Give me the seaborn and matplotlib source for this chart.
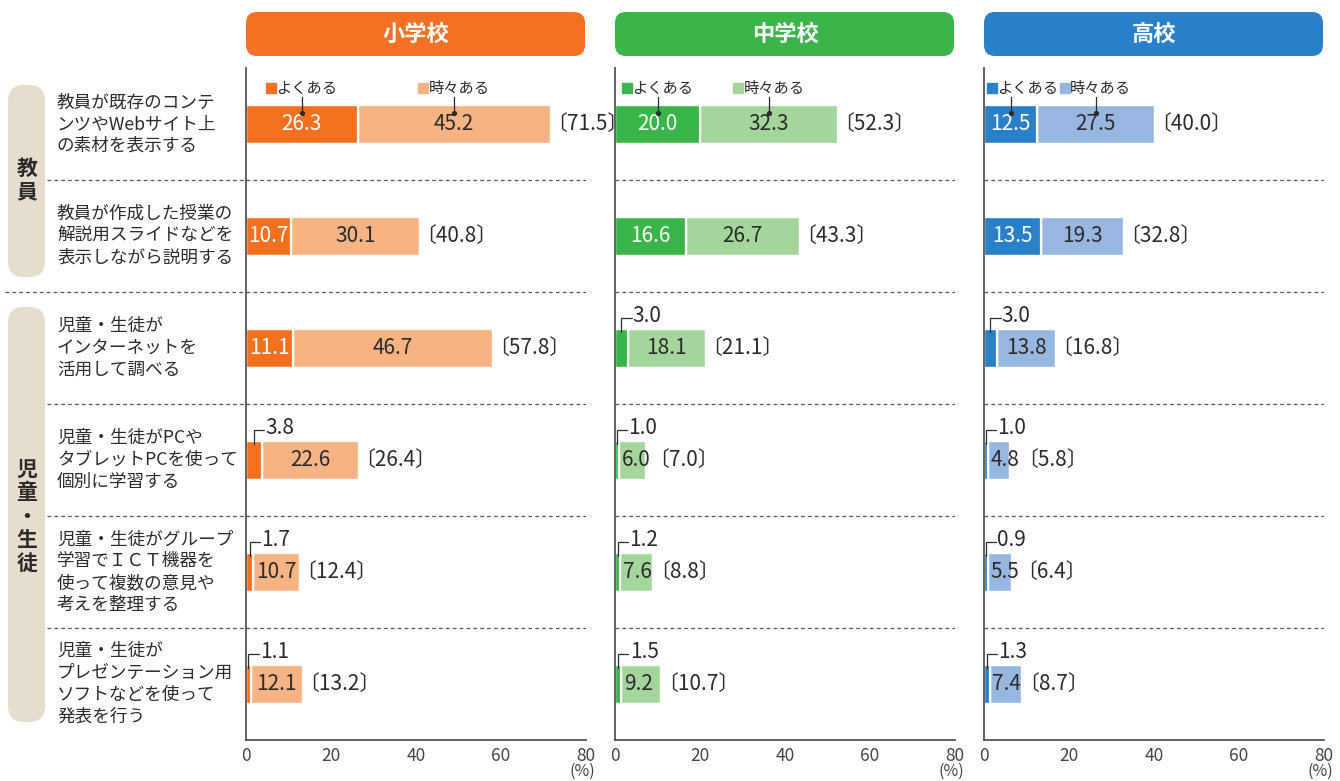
import numpy as np
import pandas as pd
import matplotlib
matplotlib.use("Agg")
import matplotlib.pyplot as plt
import seaborn as sns
from matplotlib.patches import FancyBboxPatch

# ------- DATA ---------
items = [
    "教員が既存のコンテ\nンツやWebサイト上\nの素材を表示する",
    "教員が作成した授業の\n解説用スライドなどを\n表示しながら説明する",
    "児童・生徒が\nインターネットを\n活用して調べる",
    "児童・生徒がPCや\nタブレットPCを使って\n個別に学習する",
    "児童・生徒がグループ\n学習でＩＣＴ機器を\n使って複数の意見や\n考えを整理する",
    "児童・生徒が\nプレゼンテーション用\nソフトなどを使って\n発表を行う",
]
groups = ["教員", "児童・生徒"]
group_rows = [[0, 1], [2, 3, 4, 5]]
schools = ["小学校", "中学校", "高校"]
series_names = ["よくある", "時々ある"]

often_es = [26.3, 10.7, 11.1, 3.8, 1.7, 1.1]
sometimes_es = [45.2, 30.1, 46.7, 22.6, 10.7, 12.1]
total_es = [71.5, 40.8, 57.8, 26.4, 12.4, 13.2]

often_js = [20.0, 16.6, 3.0, 1.0, 1.2, 1.5]
sometimes_js = [32.3, 26.7, 18.1, 6.0, 7.6, 9.2]
total_js = [52.3, 43.3, 21.1, 7.0, 8.8, 10.7]

often_hs = [12.5, 13.5, 3.0, 1.0, 0.9, 1.3]
sometimes_hs = [27.5, 19.3, 13.8, 4.8, 5.5, 7.4]
total_hs = [40.0, 32.8, 16.8, 5.8, 6.4, 8.7]

x_ticks = [0, 20, 40, 60, 80]

# ------- STYLE ---------
sns.set_style("white")
plt.rcParams["font.family"] = ["Noto Sans CJK JP", "DejaVu Sans"]

dark_colors = ["#F37021", "#3AB54A", "#2A80C8"]
light_colors = ["#F8B384", "#A4D69C", "#98B7E0"]
header_colors = ["#F37124", "#3BB54A", "#2A80C8"]
text_col = "#2b2b2b"
axis_col = "#555555"
val_fs = 15

W, H = 1340, 781
fig = plt.figure(figsize=(W / 100, H / 100), dpi=100)


def fx(px):
    return px / W


def round_box(x0, y0, x1, y1, color, r):
    # pixel box (y from top) -> figure fraction, keep corners circular
    box = FancyBboxPatch((fx(x0), 1 - y1 / H), fx(x1 - x0), (y1 - y0) / H,
                         boxstyle=f"round,pad=0,rounding_size={r / W}",
                         mutation_aspect=W / H, transform=fig.transFigure,
                         facecolor=color, edgecolor="none", zorder=-1)
    fig.patches.append(box)


panel_left = [246, 615, 984]
panel_w = 340
ax_top, ax_bot = 68, 740
bar_w = 0.34
px_per_unit = panel_w / 80

panel_data = [
    (often_es, sometimes_es, total_es),
    (often_js, sometimes_js, total_js),
    (often_hs, sometimes_hs, total_hs),
]

axes = []
for p, (often, sometimes, total) in enumerate(panel_data):
    ax = fig.add_axes([fx(panel_left[p]), 1 - ax_bot / H, fx(panel_w), (ax_bot - ax_top) / H])
    ax.patch.set_alpha(0)
    axes.append(ax)
    df = pd.DataFrame({"item": items, "often": often, "sometimes": sometimes, "total": total})

    sns.barplot(data=df, x="total", y="item", color=light_colors[p], width=bar_w,
                saturation=1, errorbar=None, ax=ax, zorder=2)
    sns.barplot(data=df, x="often", y="item", color=dark_colors[p], width=bar_w,
                saturation=1, errorbar=None, ax=ax, zorder=2)
    ypos = np.arange(len(items))
    ax.vlines(often, ypos - bar_w / 2, ypos + bar_w / 2, color="white", lw=1.6, zorder=3)

    ax.set_xlim(0, 80)
    ax.set_ylim(len(items) - 0.5, -0.5)
    ax.set_xlabel("")
    ax.set_ylabel("")
    for b in np.arange(0.5, len(items) - 0.5, 1):
        ax.axhline(b, color=axis_col, lw=0.9, ls=(0, (3, 2.5)), zorder=1)

    sns.despine(ax=ax)
    for s in ["left", "bottom"]:
        ax.spines[s].set_color(axis_col)
        ax.spines[s].set_linewidth(1.3)
    ax.tick_params(axis="y", left=False, labelleft=False)
    ax.set_xticks(x_ticks)
    ax.tick_params(axis="x", direction="in", length=7, width=1.2, color=axis_col,
                   labelsize=12.5, labelcolor="#444", pad=5)
    ax.text(0.988, -0.047, "(%)", transform=ax.transAxes, ha="center", va="center",
            fontsize=11.5, color="#444")

    # ------- VALUE LABELS ---------
    for i in range(len(items)):
        d, s, t = often[i], sometimes[i], total[i]
        if d >= 5:
            ax.text(d / 2, i, f"{d:.1f}", ha="center", va="center", color="white",
                    fontsize=val_fs, zorder=4)
        else:
            x0 = d / 2
            ax.plot([x0, x0, x0 + 2.4], [i - 0.14, i - 0.27, i - 0.27], color=text_col,
                    lw=0.9, zorder=4, solid_joinstyle="miter")
            ax.text(x0 + 2.7, i - 0.29, f"{d:.1f}", ha="left", va="center", color=text_col,
                    fontsize=val_fs, zorder=4)
        if s >= 10:
            ax.text(d + (t - d) / 2, i, f"{s:.1f}", ha="center", va="center",
                    color=text_col, fontsize=val_fs, zorder=4)
            txt_end = t
        else:
            ax.text(d + 0.6, i, f"{s:.1f}", ha="left", va="center",
                    color=text_col, fontsize=val_fs, zorder=4)
            txt_end = d + 0.6 + 30 / px_per_unit
        ax.text(max(t, txt_end) - 0.9, i, f"〔{t:.1f}〕", ha="left", va="center",
                color=text_col, fontsize=val_fs, zorder=4)

    # ------- LEGEND WITH LEADERS ---------
    leaders = [often[0] / 2, often[0] + (total[0] - often[0]) / 2]
    grp_w = 71 / px_per_unit
    for k, lx in enumerate(leaders):
        start = max(0.6, lx - grp_w / 2)
        col = dark_colors[p] if k == 0 else light_colors[p]
        ax.plot([start + 1.2], [-0.32], marker="s", ms=7.5, color=col, ls="none",
                clip_on=False, zorder=4)
        ax.text(start + 2.4, -0.32, series_names[k], ha="left", va="center",
                fontsize=11, color=text_col, zorder=4)
        ax.plot([lx, lx], [-0.24, -0.1], color=text_col, lw=0.9, zorder=4)
        ax.plot([lx], [-0.1], marker="o", ms=2.8, color=text_col, zorder=4)

    # ------- HEADER ---------
    round_box(panel_left[p], 12, panel_left[p] + panel_w - 1, 56, header_colors[p], 11)
    fig.text(fx(panel_left[p] + panel_w / 2), 1 - 34 / H, schools[p], ha="center",
             va="center", color="white", fontsize=16, fontweight="bold")

# ------- LEFT LABEL AREA ---------
ax0 = axes[0]
ytr = ax0.get_yaxis_transform()
for i, lab in enumerate(items):
    ax0.text((57 - 246) / panel_w, i, lab, transform=ytr, ha="left", va="center",
             fontsize=12.7, color=text_col, linespacing=1.27)

round_box(8, 85, 45, 277, "#E5DECE", 16)
round_box(8, 307, 45, 722, "#E5DECE", 16)
for g, rows in zip(groups, group_rows):
    ax0.text((27 - 246) / panel_w, np.mean(rows), "\n".join(g), transform=ytr,
             ha="center", va="center", fontsize=15, fontweight="bold",
             color=text_col, linespacing=1.15)

for b in np.arange(0.5, len(items) - 0.5, 1):
    x_start = (5 - 246) / panel_w if b == 1.5 else (47 - 246) / panel_w
    ax0.plot([x_start, 0], [b, b], transform=ytr, clip_on=False, color=axis_col,
             lw=0.9, ls=(0, (3, 2.5)))

fig.savefig("out.png", dpi=100)
